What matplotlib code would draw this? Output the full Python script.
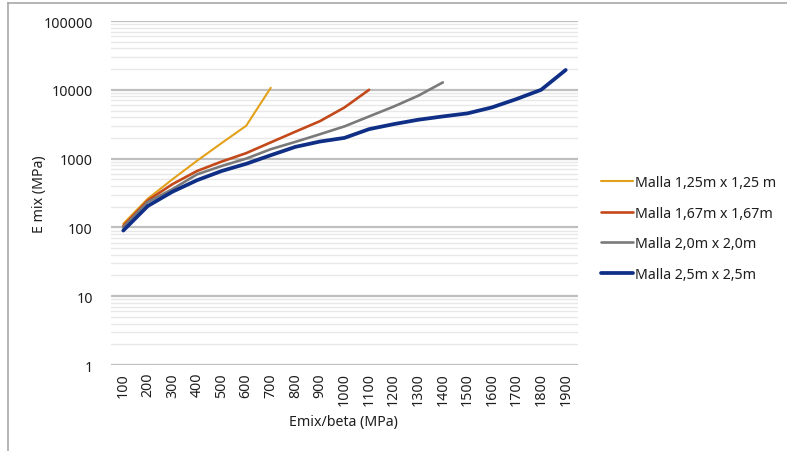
import numpy as np
import matplotlib
matplotlib.use("Agg")
import matplotlib.pyplot as plt
from matplotlib.lines import Line2D
from matplotlib.ticker import LogLocator, NullFormatter, FixedLocator

plt.rcParams['font.family'] = ['Noto Sans', 'DejaVu Sans']

# Emix/beta categories (MPa)
categories = [100, 200, 300, 400, 500, 600, 700, 800, 900, 1000,
              1100, 1200, 1300, 1400, 1500, 1600, 1700, 1800, 1900]

# E mix (MPa) for each mesh spacing
malla_125 = [113, 262, 500, 930, 1680, 3000, 10700]
malla_167 = [105, 247, 425, 660, 905, 1200, 1720, 2460, 3500, 5540, 10000]
malla_200 = [100, 234, 360, 590, 780, 1000, 1370, 1750, 2260, 2940, 4100,
             5700, 8200, 12800]
malla_250 = [90, 205, 330, 485, 660, 840, 1120, 1480, 1770, 2000, 2680,
             3170, 3670, 4100, 4540, 5550, 7340, 10000, 19400]

series = [
    ("Malla 1,25m x 1,25 m", malla_125, "#E3A11B", 1.5),
    ("Malla 1,67m x 1,67m", malla_167, "#C4491A", 1.9),
    ("Malla 2,0m x 2,0m", malla_200, "#7A7A7A", 1.9),
    ("Malla 2,5m x 2,5m", malla_250, "#0F2F86", 2.7),
]

FS = 10.2
TXT = '#1E1E1E'

fig = plt.figure(figsize=(7.87, 4.52), dpi=100)
ax = fig.add_axes([111 / 787, 1 - 366 / 452, 467 / 787, 344 / 452])

x = np.arange(len(categories))
handles = []
for label, vals, color, lw in series:
    h, = ax.plot(x[:len(vals)], vals, color=color, lw=lw, label=label,
                 solid_capstyle='round', solid_joinstyle='round', zorder=3)
    handles.append(h)

ax.set_yscale('log')
ax.set_ylim(1, 100000)
ax.set_xlim(-0.5, len(categories) - 0.5)

ax.yaxis.set_major_locator(FixedLocator([1, 10, 100, 1000, 10000, 100000]))
ax.set_yticklabels(["1", "10", "100", "1000", "10000", "100000"])
ax.yaxis.set_minor_locator(LogLocator(base=10, subs=np.arange(2, 10), numticks=20))
ax.yaxis.set_minor_formatter(NullFormatter())

ax.set_xticks(x)
ax.set_xticklabels([str(c) for c in categories], rotation=90)

ax.grid(which='major', axis='y', color='#BFBFBF', lw=1.6, zorder=1)
ax.grid(which='minor', axis='y', color='#E8E8E8', lw=1.0, zorder=1)
ax.grid(which='both', axis='x', visible=False)

for s in ax.spines.values():
    s.set_visible(False)
ax.tick_params(axis='both', which='both', length=0, labelsize=FS,
               colors=TXT)
ax.tick_params(axis='y', pad=13)
ax.tick_params(axis='x', pad=5)

fig.text(39 / 787, 1 - 194 / 452, "E mix (MPa)", rotation=90,
         ha='center', va='center', fontsize=FS, color=TXT)
fig.text(343 / 787, 1 - 423 / 452, "Emix/beta (MPa)",
         ha='center', va='center', fontsize=FS, color=TXT)

fig.legend(handles=handles, loc='upper left',
           bbox_to_anchor=(595 / 787, 1 - 170 / 452),
           frameon=False, fontsize=FS, handlelength=2.3,
           handletextpad=0.12, labelspacing=1.12, borderaxespad=0,
           labelcolor=TXT)

# outer frame lines (top and left)
fig.add_artist(Line2D([8 / 787, 1], [1 - 4 / 452, 1 - 4 / 452],
                      transform=fig.transFigure, color='#A8A8A8', lw=1.2))
fig.add_artist(Line2D([8 / 787, 8 / 787], [0, 1 - 4 / 452],
                      transform=fig.transFigure, color='#A8A8A8', lw=1.2))

fig.savefig("out.png", dpi=100)
